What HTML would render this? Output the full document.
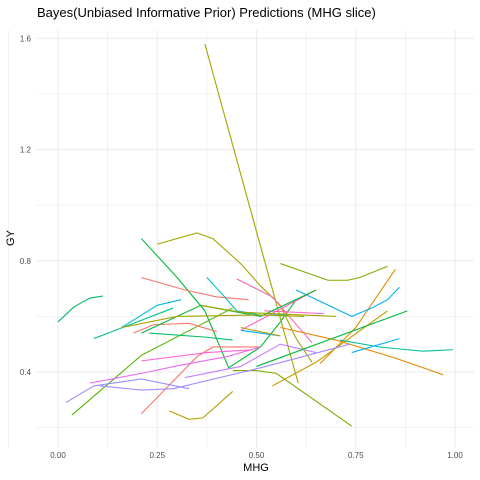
<!DOCTYPE html>
<html><head><meta charset="utf-8"><style>
body{margin:0;background:#fff;}
svg{display:block;font-family:"Liberation Sans",Arial,sans-serif;}
</style></head><body>
<svg id="chart" width="480" height="480">
<text x="37" y="17" font-size="13" fill="#000">Bayes(Unbiased Informative Prior)  Predictions (MHG slice)</text>
<g id="grid"></g><g id="series"></g><g id="axes"></g>
<text x="256" y="471" font-size="11" text-anchor="middle" fill="#000">MHG</text>
<text x="14" y="238" font-size="11" text-anchor="middle" fill="#000" transform="rotate(-90 14 238)">GY</text>
</svg>
<script>
const xTicks=[0,0.25,0.5,0.75,1.0];
const xTickLabels=["0.00","0.25","0.50","0.75","1.00"];
const yTicks=[0.4,0.8,1.2,1.6];
const yTickLabels=["0.4","0.8","1.2","1.6"];
const colors=["#00BE67","#00BA38","#A3A500","#A3A500","#B79F00","#7CAE00","#53B400","#7CAE00","#E58700","#E08B00","#C49A00","#F8766D","#F8766D","#FF61C3","#FF64B0","#00A9FF","#00BFC4","#00BCD8","#00B0F6","#00C19A","#00C08B","#E76BF3","#FF62BC","#9590FF","#C77CFF","#A58AFF","#00B0F6","#00BA38","#FD61D1","#F8766D"];
const s0=[[0,0.58],[0.04,0.634],[0.08,0.666],[0.113,0.673]];
const s1=[[0.21,0.88],[0.3,0.74],[0.37,0.62],[0.43,0.415],[0.51,0.49],[0.56,0.58],[0.6,0.66]];
const s2=[[0.37,1.58],[0.605,0.36]];
const s3=[[0.25,0.86],[0.35,0.9],[0.39,0.88],[0.46,0.79],[0.51,0.71],[0.56,0.64],[0.6,0.52],[0.64,0.435]];
const s4=[[0.28,0.26],[0.33,0.23],[0.365,0.235],[0.44,0.33]];
const s5=[[0.44,0.405],[0.5,0.405],[0.55,0.395],[0.74,0.205]];
const s6=[[0.035,0.245],[0.21,0.46],[0.44,0.63]];
const s7=[[0.56,0.79],[0.6,0.77],[0.68,0.73],[0.73,0.73],[0.76,0.74],[0.83,0.78]];
const s8=[[0.56,0.56],[0.7,0.515],[0.85,0.45],[0.97,0.39]];
const s9=[[0.66,0.43],[0.75,0.56],[0.85,0.77]];
const s10=[[0.54,0.35],[0.65,0.435],[0.83,0.62]];
const s11=[[0.21,0.25],[0.35,0.455],[0.39,0.49],[0.51,0.49]];
const s12=[[0.21,0.74],[0.32,0.695],[0.4,0.67],[0.48,0.66]];
const s13=[[0.52,0.62],[0.67,0.61]];
const s14=[[0.45,0.735],[0.54,0.67],[0.64,0.505]];
const s15=[[0.46,0.55],[0.56,0.53]];
const s16=[[0.375,0.74],[0.42,0.67],[0.45,0.62],[0.51,0.605],[0.58,0.605]];
const s17=[[0.16,0.56],[0.25,0.64],[0.31,0.66]];
const s18=[[0.6,0.695],[0.74,0.6],[0.79,0.63],[0.83,0.66],[0.86,0.705]];
const s19=[[0.71,0.515],[0.81,0.49],[0.88,0.48],[0.92,0.475],[0.995,0.48]];
const s20=[[0.09,0.52],[0.29,0.63]];
const s21=[[0.08,0.36],[0.21,0.395],[0.31,0.425],[0.425,0.455],[0.51,0.49]];
const s22=[[0.46,0.55],[0.65,0.695]];
const s23=[[0.02,0.29],[0.09,0.35],[0.21,0.375],[0.33,0.34]];
const s24=[[0.32,0.38],[0.425,0.41],[0.46,0.42],[0.56,0.5],[0.65,0.47]];
const s25=[[0.106,0.35],[0.21,0.335],[0.29,0.34],[0.51,0.415],[0.735,0.5]];
const s26=[[0.74,0.47],[0.86,0.52]];
const s27=[[0.5,0.42],[0.88,0.62]];
const s28=[[0.21,0.44],[0.375,0.47],[0.49,0.48]];
const s29=[[0.19,0.54],[0.24,0.57],[0.33,0.575],[0.4,0.545]];
const s30=[[0.23,0.54],[0.375,0.525],[0.44,0.515]];
const s31=[[0.21,0.54],[0.36,0.64],[0.51,0.6],[0.65,0.695]];
const s32=[[0.36,0.64],[0.46,0.615],[0.7,0.6]];
const s33=[[0.16,0.56],[0.3,0.6],[0.51,0.605],[0.62,0.6]];
const s34=[[0.46,0.56],[0.56,0.53]];
const series=[s0,s1,s2,s3,s4,s5,s6,s7,s8,s9,s10,s11,s12,s13,s14,s15,s16,s17,s18,s19,s20,s21,s22,s23,s24,s25,s26,s27,s28,s29,s30,s31,s32,s33,s34];
const NS="http://www.w3.org/2000/svg";
const X0=37,X1=474,Y0=30,Y1=448;
function xs(v){return 58+397*v;}
function ys(v){return 372-278*(v-0.4);}
const grid=document.getElementById('grid');
for(let v=-0.125;v<=1.13;v+=0.125){
 const l=document.createElementNS(NS,'line');
 l.setAttribute('x1',xs(v));l.setAttribute('x2',xs(v));l.setAttribute('y1',Y0);l.setAttribute('y2',Y1);
 l.setAttribute('stroke','#ebebeb');l.setAttribute('stroke-width',Math.abs(v*4-Math.round(v*4))<0.01?1:0.6);
 
 
 grid.appendChild(l);
}
for(let v=0.2;v<=1.61;v+=0.2){
 const l=document.createElementNS(NS,'line');
 l.setAttribute('x1',X0);l.setAttribute('x2',X1);l.setAttribute('y1',ys(v));l.setAttribute('y2',ys(v));
 l.setAttribute('stroke','#ebebeb');l.setAttribute('stroke-width',Math.round(v*10)%4===0?1:0.6);
 
 
 grid.appendChild(l);
}
const axes=document.getElementById('axes');
xTicks.forEach((v,i)=>{
 const t=document.createElementNS(NS,'text');
 t.setAttribute('x',xs(v));t.setAttribute('y',458);t.setAttribute('font-size','8');
 t.setAttribute('text-anchor','middle');t.setAttribute('fill','#4d4d4d');
 t.textContent=xTickLabels[i];
 
 
 axes.appendChild(t);
});
yTicks.forEach((v,i)=>{
 const t=document.createElementNS(NS,'text');
 t.setAttribute('x',31);t.setAttribute('y',ys(v)+3);t.setAttribute('font-size','8');
 t.setAttribute('text-anchor','end');t.setAttribute('fill','#4d4d4d');
 t.textContent=yTickLabels[i];
 
 
 axes.appendChild(t);
});
const sg=document.getElementById('series');
series.forEach((s,i)=>{
 const p=document.createElementNS(NS,'polyline');
 p.setAttribute('points',s.map(d=>xs(d[0])+','+ys(d[1])).join(' '));
 p.setAttribute('fill','none');p.setAttribute('stroke',colors[i%colors.length]);p.setAttribute('stroke-width','1.1');
 
 
 sg.appendChild(p);
});
</script>
</body></html>
